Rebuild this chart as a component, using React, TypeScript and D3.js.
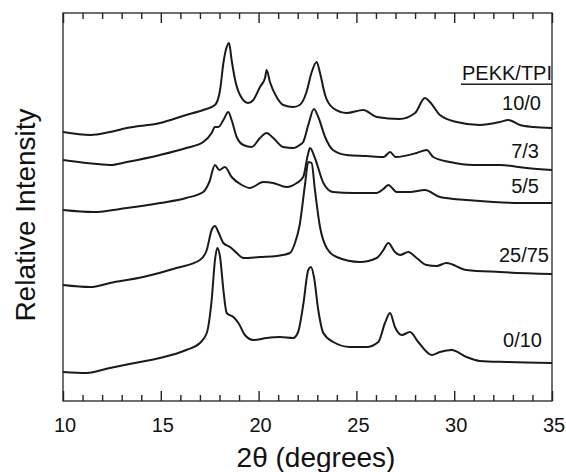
import React, { useEffect, useRef } from "react";
import * as d3 from "d3";

// 2θ (degrees) and relative intensity (arbitrary units, stacked traces)
const theta_10_0 = [10.0, 11.4, 12.4, 13.26, 14.96, 16.3, 17.17, 17.77, 18.03, 18.2, 18.37, 18.49, 18.62, 18.8, 19.05, 19.47, 19.73, 20.07, 20.33, 20.41, 20.58, 20.92, 21.26, 21.77, 22.1, 22.45, 22.7, 22.97, 23.14, 23.4, 23.8, 24.5, 25.35, 26.04, 27.2, 28.0, 28.5, 28.76, 29.27, 30.13, 31.3, 32.34, 32.77, 33.36, 34.04, 35];
const int_10_0 = [269, 266, 269, 273, 278, 286, 291, 296, 311, 338, 354, 358, 341, 321, 306, 298, 301, 314, 323, 331, 319, 304, 296, 294, 296, 309, 328, 339, 328, 306, 293, 288, 291, 284, 282, 288, 303, 299, 286, 279, 276, 279, 281, 276, 274, 273];

const theta_7_3 = [10.0, 11.2, 12.4, 13.26, 14.96, 16.3, 17.17, 17.6, 17.77, 17.94, 18.2, 18.45, 18.62, 18.88, 19.22, 19.65, 20.07, 20.41, 20.75, 21.26, 21.77, 22.1, 22.28, 22.54, 22.83, 23.05, 23.4, 23.8, 24.5, 25.52, 26.4, 26.72, 27.0, 28.08, 28.59, 28.93, 29.78, 30.97, 32.34, 33.7, 35];
const int_7_3 = [241, 238, 236, 239, 246, 253, 259, 268, 274, 274, 281, 289, 281, 264, 256, 254, 263, 268, 263, 254, 253, 256, 259, 276, 292, 284, 264, 251, 246, 245, 244, 249, 244, 248, 251, 244, 239, 236, 236, 233, 231];

const theta_5_5 = [10.0, 11.55, 13.26, 14.96, 16.3, 17.17, 17.48, 17.77, 17.99, 18.28, 18.62, 19.14, 19.56, 20.24, 20.75, 21.43, 21.95, 22.28, 22.54, 22.63, 22.88, 23.31, 23.8, 24.84, 26.04, 26.38, 26.63, 27.06, 27.74, 28.5, 29.27, 30.63, 32.0, 33.36, 35];
const int_5_5 = [191, 189, 193, 198, 203, 209, 219, 236, 231, 234, 224, 216, 213, 219, 218, 214, 218, 224, 248, 253, 243, 218, 209, 208, 208, 212, 216, 209, 209, 211, 204, 201, 199, 198, 198];

const theta_25_75 = [10.0, 11.4, 12.4, 14.1, 15.8, 17.0, 17.35, 17.6, 17.77, 17.94, 18.2, 18.54, 18.88, 19.22, 20.07, 20.92, 21.6, 21.86, 22.1, 22.37, 22.54, 22.71, 22.88, 23.14, 23.48, 23.99, 25.18, 26.04, 26.38, 26.63, 26.97, 27.23, 27.65, 28.08, 28.59, 29.1, 29.6, 30.63, 32.34, 35];
const int_25_75 = [116, 114, 118, 124, 133, 141, 151, 171, 175, 169, 158, 154, 148, 143, 144, 145, 148, 158, 176, 216, 239, 238, 211, 174, 153, 144, 139, 143, 151, 158, 149, 146, 149, 143, 136, 135, 138, 131, 129, 127];

const theta_0_10 = [10.0, 11.2, 12.4, 13.94, 14.96, 16.3, 17.0, 17.35, 17.6, 17.77, 17.89, 18.03, 18.2, 18.37, 18.71, 18.97, 19.3, 19.73, 20.41, 21.09, 21.77, 22.02, 22.28, 22.54, 22.68, 22.83, 23.05, 23.31, 23.82, 24.67, 25.52, 26.12, 26.46, 26.72, 26.97, 27.32, 27.74, 28.16, 28.85, 29.27, 29.87, 30.63, 31.31, 32.68, 35];
const int_0_10 = [29, 28, 33, 39, 43, 51, 58, 68, 101, 141, 153, 144, 111, 88, 84, 78, 66, 61, 63, 64, 63, 69, 96, 131, 134, 124, 91, 68, 59, 54, 54, 59, 78, 88, 74, 66, 69, 59, 46, 49, 51, 44, 40, 39, 38];

const seriesNames = ["10/0", "7/3", "5/5", "25/75", "0/10"];
const seriesTheta = [theta_10_0, theta_7_3, theta_5_5, theta_25_75, theta_0_10];
const seriesInt = [int_10_0, int_7_3, int_5_5, int_25_75, int_0_10];

const xTicks = [10, 15, 20, 25, 30, 35];
const xMinorTicks = [11, 12, 13, 14, 16, 17, 18, 19, 21, 22, 23, 24, 26, 27, 28, 29, 31, 32, 33, 34];
const legendTitle = "PEKK/TPI";

const W = 566;
const H = 472;
const M = { left: 63, right: 552, top: 13, bottom: 401 };
const FONT = "'Liberation Sans', Arial, Helvetica, sans-serif";

// label placement (end x in px, baseline y in px)
const labelPos = [
  [541, 110],
  [539, 158],
  [539, 193],
  [549, 262],
  [542, 347],
];

export default function App() {
  const axRef = useRef<SVGGElement | null>(null);
  const x = d3.scaleLinear().domain([10, 35]).range([M.left, M.right]);
  const y = d3.scaleLinear().domain([0, 388]).range([M.bottom, M.top]);
  const line = d3
    .line<[number, number]>()
    .x((d) => x(d[0]))
    .y((d) => y(d[1]))
    .curve(d3.curveMonotoneX);

  useEffect(() => {
    if (!axRef.current) return;
    const g = d3.select(axRef.current);
    g.selectAll("*").remove();
    const mk = (
      axisFn: typeof d3.axisBottom,
      ticks: number[],
      size: number,
      ty: number
    ) => {
      const a = axisFn(x).tickValues(ticks).tickSize(size).tickSizeOuter(0).tickFormat(() => "");
      const sel = g.append("g").attr("transform", `translate(0,${ty})`).call(a as any);
      sel.select(".domain").remove();
      sel.selectAll(".tick line").attr("stroke", "#222").attr("stroke-width", 1.4);
    };
    mk(d3.axisBottom, xTicks, -10, M.bottom);
    mk(d3.axisBottom, xMinorTicks, -6, M.bottom);
    mk(d3.axisTop, xTicks, -10, M.top);
    mk(d3.axisTop, xMinorTicks, -6, M.top);
  });

  return (
    <svg
      width={W}
      height={H}
      viewBox={`0 0 ${W} ${H}`}
      style={{ position: "absolute", left: 0, top: 0, background: "#fff", display: "block" }}
      fontFamily={FONT}
    >
      <rect x={0} y={0} width={W} height={H} fill="#fff" />
      {seriesNames.map((name, i) => {
        const pts = seriesTheta[i].map((t, j) => [t, seriesInt[i][j]] as [number, number]);
        return (
          <path
            key={name}
            d={line(pts) || ""}
            fill="none"
            stroke="#1a1a1a"
            strokeWidth={2}
            strokeLinejoin="round"
          />
        );
      })}
      {/* frame */}
      <rect
        x={M.left}
        y={M.top}
        width={M.right - M.left}
        height={M.bottom - M.top}
        fill="none"
        stroke="#222"
        strokeWidth={1.3}
      />
      {/* inward ticks on bottom and top */}
      <g ref={axRef} />
      {xTicks.map((t) => (
        <text
          key={t}
          x={x(t) + 2}
          y={432}
          textAnchor="middle"
          fontSize={20}
          fill="#111"
        >
          {t}
        </text>
      ))}
      <text x={316} y={467} textAnchor="middle" fontSize={28} fill="#111">
        2θ (degrees)
      </text>
      <text
        transform="translate(35,215) rotate(-90)"
        textAnchor="middle"
        fontSize={28}
        fill="#111"
      >
        Relative Intensity
      </text>
      {/* legend */}
      <text x={552} y={80} textAnchor="end" fontSize={20} fill="#111">
        {legendTitle}
      </text>
      <rect x={461} y={83.5} width={91} height={1.4} fill="#111" />
      {seriesNames.map((name, i) => (
        <text
          key={name}
          x={labelPos[i][0]}
          y={labelPos[i][1]}
          textAnchor="end"
          fontSize={20}
          fill="#111"
        >
          {name}
        </text>
      ))}
    </svg>
  );
}
